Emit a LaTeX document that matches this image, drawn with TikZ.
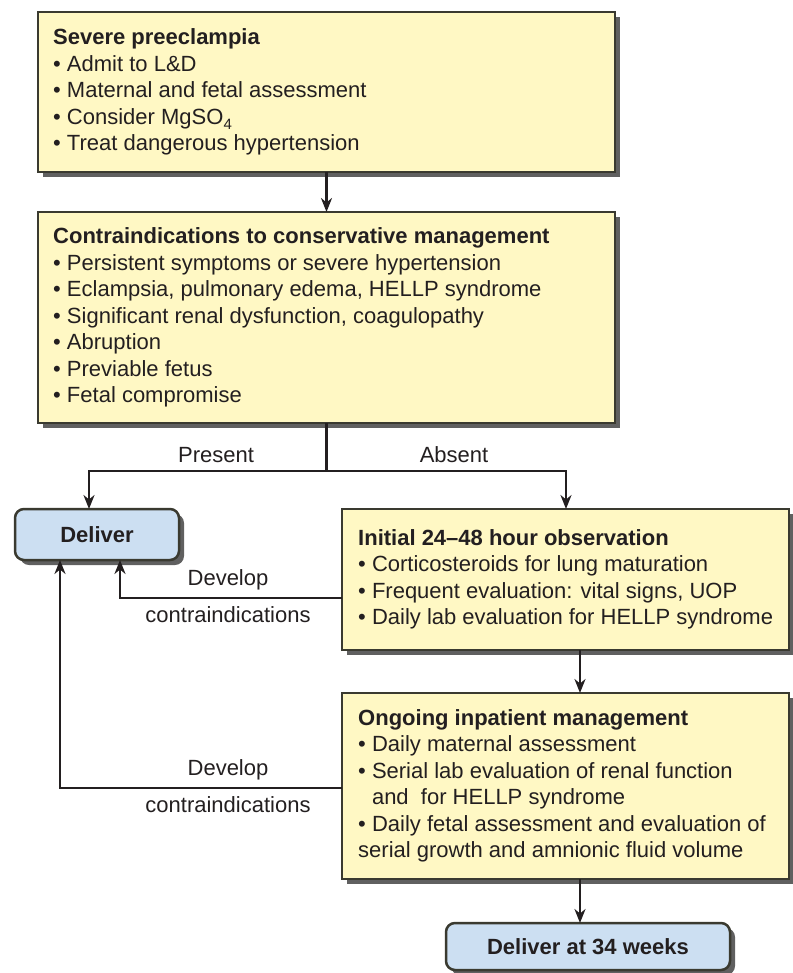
\documentclass[tikz,border=0pt]{standalone}
\usepackage{fontspec}
\setmainfont{Liberation Sans}
\usetikzlibrary{shadows,arrows.meta}
\definecolor{boxyellow}{HTML}{FFF8C4}
\definecolor{boxblue}{HTML}{CCDFF2}
\definecolor{edgecol}{HTML}{3A3A30}
\definecolor{shade}{HTML}{606060}
\definecolor{ink}{HTML}{231F20}
\newcommand{\bul}{•\ }
\newcommand{\indentbul}{\hphantom{•\ }}
\begin{document}
\begin{tikzpicture}[x=1pt,y=1pt,
  infobox/.style={draw=edgecol, line width=2.2pt, fill=boxyellow, anchor=north west,
    inner sep=0pt, outer sep=0pt, drop shadow={shadow xshift=5pt, shadow yshift=-5pt, fill=shade, opacity=1}},
  infotext/.style={anchor=west, align=left, inner sep=0pt, text=ink,
    font=\fontsize{22}{26.5}\selectfont},
  endbox/.style={draw=edgecol, line width=2.5pt, fill=boxblue, rounded corners=9pt, anchor=north west,
    inner sep=0pt, outer sep=0pt, text=ink, font=\bfseries\fontsize{22}{26}\selectfont,
    drop shadow={shadow xshift=5pt, shadow yshift=-5pt, fill=shade, opacity=1}},
  lbl/.style={text=ink, inner sep=0pt, font=\fontsize{22}{26}\selectfont},
  conn/.style={draw=ink, line width=2.2pt},
  arr/.style={conn, -{Stealth[length=14pt,width=11pt,inset=4.5pt]}}
]
\useasboundingbox (0,0) rectangle (792,-973);

% boxes
\node[infobox, minimum width=577pt, minimum height=160pt] (sev) at (38,-12) {};
\node[infotext] (sevt) at ([xshift=15pt]sev.west)
 {\textbf{Severe preeclampia}\\
  \bul Admit to L\&D\\
  \bul Maternal and fetal assessment\\
  \bul Consider MgSO\raisebox{-5pt}{\fontsize{15}{15}\selectfont 4}\\
  \bul Treat dangerous hypertension};

\node[infobox, minimum width=577pt, minimum height=211pt] (contra) at (38,-212) {};
\node[infotext] (contrat) at ([xshift=15pt]contra.west)
 {\textbf{Contraindications to conservative management}\\
  \bul Persistent symptoms or severe hypertension\\
  \bul Eclampsia, pulmonary edema, HELLP syndrome\\
  \bul Significant renal dysfunction, coagulopathy\\
  \bul Abruption\\
  \bul Previable fetus\\
  \bul Fetal compromise};

\node[endbox, minimum width=164pt, minimum height=51pt] (deliver) at (15,-509) {Deliver};

\node[infobox, minimum width=447pt, minimum height=141pt] (init) at (342,-509) {};
\node[infotext] (initt) at ([xshift=16pt]init.west)
 {\textbf{Initial 24–48 hour observation}\\
  \bul Corticosteroids for lung maturation\\
  \bul Frequent evaluation: vital signs, UOP\\
  \bul Daily lab evaluation for HELLP syndrome};

\node[infobox, minimum width=447pt, minimum height=186pt] (ongo) at (342,-693) {};
\node[infotext] (ongot) at ([xshift=16pt]ongo.west)
 {\textbf{Ongoing inpatient management}\\
  \bul Daily maternal assessment\\
  \bul Serial lab evaluation of renal function\\
  \indentbul and \ for HELLP syndrome\\
  \bul Daily fetal assessment and evaluation of\\
  serial growth and amnionic fluid volume};

\node[endbox, minimum width=284pt, minimum height=47pt] (d34) at (446,-923) {Deliver at 34 weeks};

% connectors
\draw[arr] (sev.south) -- (contra.north);
\coordinate (split) at (contra.south |- 0,-471);
\coordinate (dIn) at (89,-509);
\coordinate (iIn) at (566,-509);
\draw[conn] (contra.south) -- (split);
\draw[arr] (split) -| (dIn);
\draw[arr] (split) -| (iIn);

\coordinate (iOut) at (342,-598);
\coordinate (dUp1) at (120,-560);
\draw[arr] (iOut) -| (dUp1);
\coordinate (oOut) at (342,-788);
\coordinate (dUp2) at (60,-560);
\draw[arr] (oOut) -| (dUp2);

\coordinate (iDown) at (580,-650);
\coordinate (oTop) at (580,-693);
\draw[arr] (iDown) -- (oTop);
\coordinate (oDown) at (580,-879);
\coordinate (dTop) at (580,-923);
\draw[arr] (oDown) -- (dTop);

% labels
\node[lbl] (present) at (216,-455) {Present};
\node[lbl] (absent) at (454,-455) {Absent};
\node[lbl] (dev1) at (228,-580) {Develop};
\node[lbl] (con1) at (228,-615) {contraindications};
\node[lbl] (dev2) at (228,-770) {Develop};
\node[lbl] (con2) at (228,-805) {contraindications};
\end{tikzpicture}
\end{document}
